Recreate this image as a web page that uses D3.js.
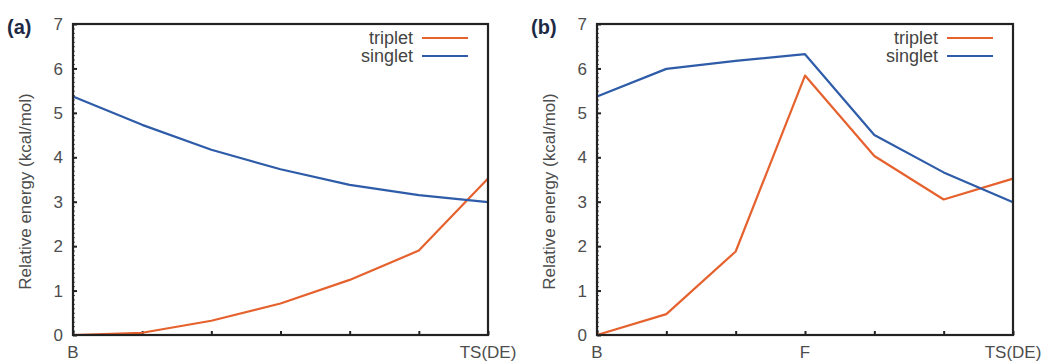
<!DOCTYPE html>
<html>
<head>
<meta charset="utf-8">
<script src="https://cdn.jsdelivr.net/npm/d3@7"></script>
<style>
    body { margin: 0; background: #fff; }
    text { font-family: Arial, "Liberation Sans", sans-serif; }
</style>
</head>
<body>
<div id="chart"></div>
<script>
// panel (a)
const tripletA = [0, 0.05, 0.32, 0.71, 1.24, 1.9, 3.52]
const singletA = [5.37, 4.73, 4.17, 3.73, 3.38, 3.15, 2.99]
// panel (b)
const tripletB = [0, 0.47, 1.88, 5.84, 4.03, 3.05, 3.52]
const singletB = [5.37, 5.99, 6.17, 6.32, 4.5, 3.66, 2.99]

const xLabelsA = ['B', '', '', '', '', '', 'TS(DE)']
const xLabelsB = ['B', '', '', 'F', '', '', 'TS(DE)']
const yTicks = [0, 1, 2, 3, 4, 5, 6, 7]
const seriesNames = ['triplet', 'singlet']

const W = 1043, H = 361
const colors = { triplet: '#e5622e', singlet: '#2e5ca8' }

const svg = d3.select('#chart')
    .append('svg')
    .attr('width', W)
    .attr('height', H)

function panel(tag, left, right, triplet, singlet, xLabels) {
    const top = 24, bottom = 335
    const g = svg.append('g')

    const xScale = d3.scaleLinear().domain([0, triplet.length - 1]).range([left, right])
    const yScale = d3.scaleLinear().domain([0, 7]).range([bottom, top])

    //minor ticks on the left axis
    g.append('g')
        .attr('transform', 'translate(' + left + ',0)')
        .call(d3.axisRight(yScale).tickValues(d3.range(0, 70).map(d => d / 10)).tickSize(2).tickFormat(''))
        .call(s => s.select('.domain').remove())
        .call(s => s.selectAll('line').attr('stroke', '#333').attr('stroke-width', 0.8))

    //y axis, ticks inward
    g.append('g')
        .attr('transform', 'translate(' + left + ',0)')
        .call(d3.axisRight(yScale).tickValues(yTicks).tickSize(4).tickFormat(''))
        .call(s => s.select('.domain').remove())
        .call(s => s.selectAll('line').attr('stroke', '#222').attr('stroke-width', 2))

    g.selectAll('.ylab')
        .data(yTicks)
        .enter()
        .append('text')
        .attr('x', left - 10)
        .attr('y', d => yScale(d))
        .attr('dy', '0.36em')
        .attr('text-anchor', 'end')
        .style('font-size', '17px')
        .style('fill', '#4d4d4d')
        .text(d => d)

    //x axis, ticks inward
    g.append('g')
        .attr('transform', 'translate(0,' + bottom + ')')
        .call(d3.axisTop(xScale).tickValues(d3.range(triplet.length)).tickSize(4).tickFormat(''))
        .call(s => s.select('.domain').remove())
        .call(s => s.selectAll('line').attr('stroke', '#222').attr('stroke-width', 2))

    g.selectAll('.xlab')
        .data(xLabels)
        .enter()
        .append('text')
        .attr('x', (d, i) => xScale(i))
        .attr('y', bottom + 23)
        .attr('text-anchor', 'middle')
        .style('font-size', '17px')
        .style('fill', '#4d4d4d')
        .text(d => d)

    //lines
    const line = d3.line()
        .x((d, i) => xScale(i))
        .y(d => yScale(d))

    g.append('path')
        .datum(triplet)
        .attr('fill', 'none')
        .attr('stroke', colors.triplet)
        .attr('stroke-width', 2.2)
        .attr('stroke-linejoin', 'round')
        .attr('d', line)

    g.append('path')
        .datum(singlet)
        .attr('fill', 'none')
        .attr('stroke', colors.singlet)
        .attr('stroke-width', 2.2)
        .attr('stroke-linejoin', 'round')
        .attr('d', line)

    //frame
    g.append('rect')
        .attr('x', left)
        .attr('y', top)
        .attr('width', right - left)
        .attr('height', bottom - top)
        .attr('fill', 'none')
        .attr('stroke', '#222')
        .attr('stroke-width', 2.2)

    //legend
    seriesNames.forEach((name, i) => {
        const ly = 38 + i * 18
        g.append('text')
            .attr('x', right - 75)
            .attr('y', ly)
            .attr('dy', '0.35em')
            .attr('text-anchor', 'end')
            .style('font-size', '18px')
            .style('fill', '#444')
            .text(name)
        g.append('line')
            .attr('x1', right - 66)
            .attr('x2', right - 20)
            .attr('y1', ly)
            .attr('y2', ly)
            .attr('stroke', colors[name])
            .attr('stroke-width', 2.2)
    })

    //y label
    g.append('text')
        .attr('transform', 'translate(' + (left - 48) + ',' + ((top + bottom) / 2 + 12) + ') rotate(-90)')
        .attr('dy', '0.35em')
        .attr('text-anchor', 'middle')
        .style('font-size', '17px')
        .style('fill', '#4d4d4d')
        .text('Relative energy (kcal/mol)')

    //panel tag
    g.append('text')
        .attr('x', left - 66)
        .attr('y', 34)
        .style('font-size', '20px')
        .style('font-weight', 'bold')
        .style('fill', '#1e2a45')
        .text(tag)
}

panel('(a)', 73, 488, tripletA, singletA, xLabelsA)
panel('(b)', 597, 1013, tripletB, singletB, xLabelsB)
</script>
</body>
</html>
